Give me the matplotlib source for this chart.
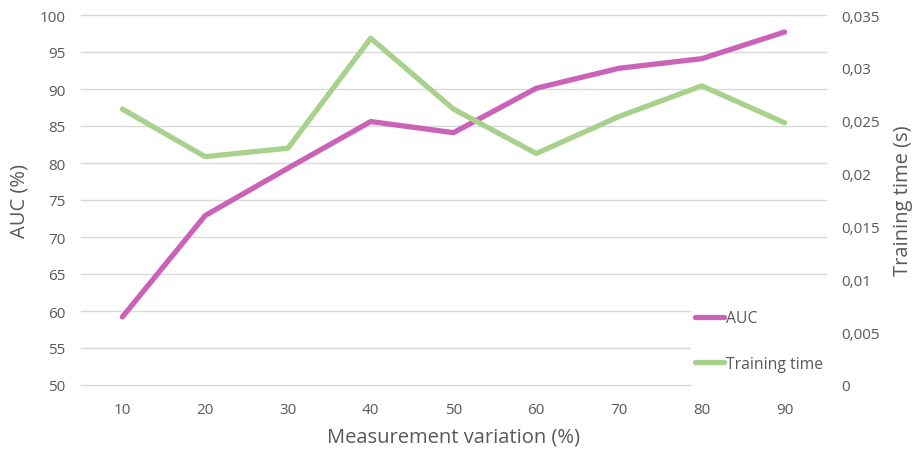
import numpy as np
import matplotlib
matplotlib.use("Agg")
import matplotlib.pyplot as plt
from matplotlib.patches import Rectangle

# data
variation = [10, 20, 30, 40, 50, 60, 70, 80, 90]
auc = [59.2, 72.9, 79.3, 85.6, 84.1, 90.1, 92.8, 94.1, 97.7]
train_time = [0.0261, 0.0216, 0.0224, 0.0328, 0.0261, 0.0219, 0.0254, 0.0283, 0.0248]
auc_ticks = [50, 55, 60, 65, 70, 75, 80, 85, 90, 95, 100]
time_ticks = [0, 0.005, 0.01, 0.015, 0.02, 0.025, 0.03, 0.035]

plt.rcParams['font.family'] = ['Open Sans', 'DejaVu Sans']
txt = '#595959'
grid = '#D9D9D9'
pink = '#CA63B8'
green = '#A9D18E'

fig = plt.figure(figsize=(9.14, 4.52), dpi=100)
ax = fig.add_axes([81 / 914, 66 / 452, 745 / 914, 370 / 452])
ax2 = ax.twinx()

ax.set_xlim(5, 95)
ax.set_ylim(50, 100)
ax2.set_ylim(0, 0.035)

ax.set_yticks(auc_ticks)
ax.set_xticks(variation)
ax2.set_yticks(time_ticks)
ax2.set_yticklabels([('%g' % v).replace('.', ',') for v in time_ticks])

for a in (ax, ax2):
    for s in a.spines.values():
        s.set_visible(False)
ax.grid(axis='y', color=grid, lw=1)
for gl in ax.get_ygridlines():
    gl.set_clip_on(False)
ax.set_axisbelow(True)
ax.tick_params(axis='both', length=0, labelsize=11, labelcolor=txt)
ax.tick_params(axis='y', pad=11)
ax.tick_params(axis='x', pad=12)
ax2.tick_params(axis='y', length=0, labelsize=11, labelcolor=txt, pad=11)

# white box behind the legend, hides gridlines like the original
ax.add_patch(Rectangle((0.819, -0.02), 0.19, 0.25, transform=ax.transAxes,
                       facecolor='white', edgecolor='none', zorder=1.5,
                       clip_on=False))

l1, = ax.plot(variation, auc, color=pink, lw=3.8, solid_capstyle='round',
              solid_joinstyle='round', label='AUC', zorder=3)
l2, = ax2.plot(variation, train_time, color=green, lw=3.8, solid_capstyle='round',
               solid_joinstyle='round', label='Training time', zorder=3)

ax.set_xlabel('Measurement variation (%)', fontsize=14.5, color=txt)
ax.set_ylabel('AUC (%)', fontsize=14.5, color=txt)
ax2.set_ylabel('Training time (s)', fontsize=14.5, color=txt)
ax.xaxis.label.set_va('center')
ax.yaxis.label.set_va('center')
ax2.yaxis.label.set_va('center')
ax.xaxis.set_label_coords(0.5, -(438 - 386) / 370)
ax.yaxis.set_label_coords((20 - 81) / 745, 0.5)
ax2.yaxis.set_label_coords((903 - 81) / 745, 0.5)

leg = ax2.legend(handles=[l1, l2], loc='center left',
                 bbox_to_anchor=(695 / 914, 110 / 452), bbox_transform=fig.transFigure,
                 frameon=False, fontsize=11.3, labelcolor=txt,
                 handlelength=1.85, handletextpad=0.1, labelspacing=1.85,
                 borderpad=0, borderaxespad=0)

fig.savefig('out.png', dpi=100)
